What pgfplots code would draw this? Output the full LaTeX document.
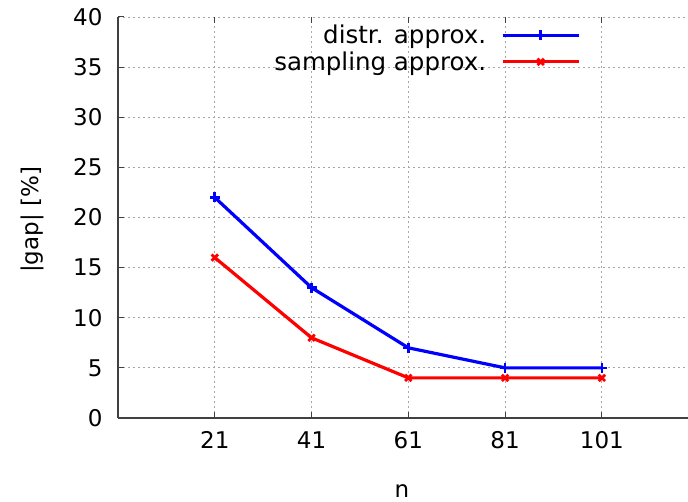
\documentclass[border=0pt]{standalone}
\usepackage{fontspec}
\setmainfont{DejaVu Sans}
\usepackage{pgfplots}
\pgfplotsset{compat=1.18}
\begin{document}
\begin{tikzpicture}[x=1pt,y=1pt]
\path[use as bounding box] (0,0) rectangle (688,502);
\begin{axis}[
  at={(118pt,84pt)}, anchor=south west,
  scale only axis, width=570pt, height=401pt,
  xmin=1, xmax=118.8, ymin=0, ymax=40,
  axis x line*=bottom, axis y line*=left,
  axis line style={-, black!75, line width=1.2pt},
  xtick={21,41,61,81,101}, ytick={0,5,...,40},
  tick style={black!75, line width=1pt},
  major tick length=6pt,
  grid=major,
  major grid style={gray!70, line width=0.9pt, dash pattern=on 2pt off 3pt},
  font=\fontsize{23}{27}\selectfont,
  /pgf/number format/assume math mode=true,
  ticklabel style={font=\fontsize{23}{27}\selectfont},
  yticklabel style={xshift=-12pt},
  xticklabel style={yshift=-10pt},
  xlabel={n}, ylabel={|gap| [\%]},
  xlabel style={at={(axis description cs:0.498,-0.183)}, anchor=center},
  ylabel style={at={(axis description cs:-0.151,0.494)}, anchor=center},
  legend style={draw=none, fill=none, at={(axis cs:97.0,39.6)}, anchor=north east,
    font=\fontsize{24.5}{28}\selectfont, row sep=2.5pt, inner sep=2pt},
  legend cell align=right,
  legend plot pos=right,
  /tikz/every odd column/.append style={column sep=13pt},
  legend image code/.code={\draw[#1, mark repeat=2, mark phase=2] plot coordinates {(0pt,0pt) (38pt,0pt) (76pt,0pt)};},
]
\addplot[blue, line width=3.2pt, mark=+, mark size=5pt, mark options={line width=2.6pt}]
  coordinates {(21,22) (41,13) (61,7) (81,5) (101,5)};
\addlegendentry{distr. approx.}
\addplot[red, line width=3.2pt, mark=x, mark size=4.5pt, mark options={line width=2.8pt}]
  coordinates {(21,16) (41,8) (61,4) (81,4) (101,4)};
\addlegendentry{sampling approx.}
\end{axis}
\begin{axis}[
  at={(118pt,84pt)}, anchor=south west,
  scale only axis, width=570pt, height=401pt,
  xmin=1, xmax=118.8, ymin=0, ymax=40,
  axis x line*=top, axis line style={draw=none},
  xtick={21,41,61,81,101}, xticklabels={}, ytick=\empty,
  tick style={black!75, line width=1pt},
  major tick length=6pt,
]
\end{axis}
\end{tikzpicture}
\end{document}
